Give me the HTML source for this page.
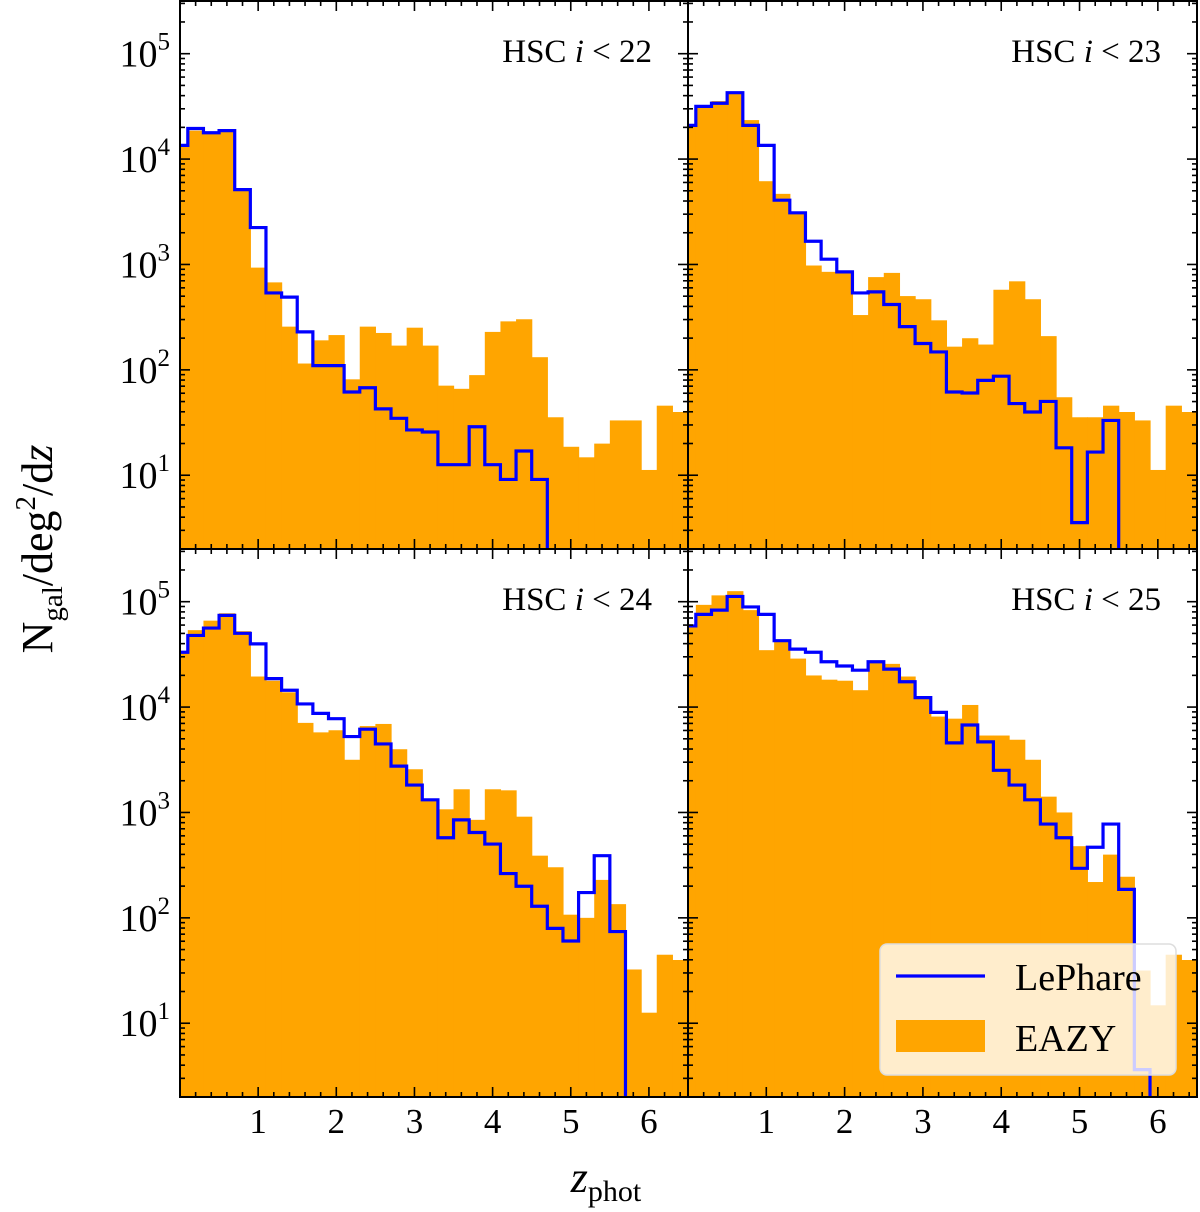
<!DOCTYPE html>
<html><head><meta charset="utf-8">
<style>
html,body{margin:0;padding:0;background:#fff;}
svg{display:block;}
text{font-family:"Liberation Serif",serif;fill:#000;}
</style></head>
<body>
<svg id="fig" width="1200" height="1212" viewBox="0 0 1200 1212" xmlns="http://www.w3.org/2000/svg"></svg>
<script>
// ---- data (log10 of N per deg^2 per dz), bins of width 0.2 centred on 0,0.2,...,6.4 ----
const binCenters = [0,0.2,0.4,0.6,0.8,1.0,1.2,1.4,1.6,1.8,2.0,2.2,2.4,2.6,2.8,3.0,3.2,3.4,3.6,3.8,4.0,4.2,4.4,4.6,4.8,5.0,5.2,5.4,5.6,5.8,6.0,6.2,6.4];
const panelTitles = ["22","23","24","25"];
const lephare22 = [4.13,4.29,4.25,4.27,3.71,3.35,2.73,2.69,2.36,2.04,2.04,1.79,1.83,1.63,1.54,1.43,1.41,1.10,1.10,1.46,1.10,0.96,1.23,0.96,null,null,null,null,null,null,null,null,null];
const eazy22 = [4.13,4.27,4.24,4.27,3.71,2.97,2.83,2.41,2.06,2.28,2.33,1.91,2.41,2.35,2.23,2.40,2.23,1.85,1.82,1.95,2.36,2.46,2.48,2.12,1.55,1.27,1.17,1.30,1.52,1.52,1.05,1.66,1.60];
const lephare23 = [4.32,4.50,4.53,4.63,4.32,4.13,3.61,3.49,3.22,3.05,2.93,2.73,2.74,2.62,2.41,2.25,2.17,1.79,1.78,1.90,1.94,1.68,1.60,1.70,1.26,0.55,1.22,1.52,null,null,null,null,null];
const eazy23 = [4.32,4.50,4.55,4.63,4.37,3.79,3.67,3.49,2.99,2.93,2.93,2.52,2.88,2.92,2.70,2.67,2.47,2.22,2.30,2.24,2.76,2.84,2.67,2.32,1.74,1.55,1.55,1.66,1.60,1.52,1.05,1.66,1.60];
const lephare24 = [4.52,4.68,4.75,4.87,4.70,4.60,4.27,4.16,4.03,3.94,3.89,3.72,3.79,3.65,3.44,3.26,3.12,2.76,2.93,2.81,2.70,2.42,2.30,2.11,1.90,1.78,2.24,2.59,1.87,null,null,null,null];
const eazy24 = [4.51,4.73,4.82,4.89,4.72,4.29,4.25,4.14,3.85,3.76,3.78,3.50,3.82,3.84,3.60,3.41,3.12,3.03,3.22,2.93,3.22,3.21,2.96,2.59,2.48,2.03,2.00,2.36,2.13,1.51,1.10,1.65,1.60];
const lephare25 = [4.77,4.88,4.92,5.05,4.95,4.88,4.63,4.55,4.52,4.43,4.39,4.35,4.43,4.36,4.24,4.09,3.95,3.66,3.83,3.67,3.40,3.26,3.12,2.89,2.76,2.47,2.67,2.89,2.27,0.56,null,null,null];
const eazy25 = [4.78,4.97,5.06,5.10,4.92,4.54,4.62,4.46,4.30,4.26,4.25,4.16,4.44,4.41,4.29,4.09,3.91,3.89,4.02,3.73,3.73,3.69,3.50,3.15,3.00,2.68,2.34,2.60,2.39,1.50,1.17,1.65,1.60];
const xTickValues = [1,2,3,4,5,6];
const yTickExps = [1,2,3,4,5];

const NS = "http://www.w3.org/2000/svg";
const svg = document.getElementById('fig');
function el(tag, attrs, parent){ const e=document.createElementNS(NS,tag); for(const k in attrs) e.setAttribute(k,attrs[k]); (parent||svg).appendChild(e); return e; }

const binW = 0.2, xMin = 0, xMax = 6.5, yLo = 0.3, yHi = 5.5;
const panels = [
 {x0:180,x1:688,y0:1,y1:549,le:lephare22,ea:eazy22,t:0,left:true,bottom:false},
 {x0:688,x1:1197,y0:1,y1:549,le:lephare23,ea:eazy23,t:1,left:false,bottom:false},
 {x0:180,x1:688,y0:549,y1:1097,le:lephare24,ea:eazy24,t:2,left:true,bottom:true},
 {x0:688,x1:1197,y0:549,y1:1097,le:lephare25,ea:eazy25,t:3,left:false,bottom:true}
];

panels.forEach((p,pi)=>{
  const g = el('g',{});
  
  
  const sx = v => p.x0 + (v - xMin)/(xMax - xMin)*(p.x1 - p.x0);
  const sy = lv => { const c = Math.max(yLo, Math.min(yHi, lv)); return p.y1 - (c - yLo)/(yHi - yLo)*(p.y1 - p.y0); };
  const clipId = 'clip'+pi;
  const cp = el('clipPath',{id:clipId},g); el('rect',{x:p.x0,y:p.y0,width:p.x1-p.x0,height:p.y1-p.y0},cp);
  const plot = el('g',{'clip-path':'url(#'+clipId+')'},g);
  binCenters.forEach((c,i)=>{
    const v = p.ea[i]; if(v==null) return;
    const xa = sx(Math.max(xMin,c-binW/2)), xb = sx(Math.min(xMax,c+binW/2));
    const r = el('rect',{x:xa,y:sy(v),width:xb-xa+0.6,height:p.y1-sy(v),fill:'#ffa500'},plot);
    
    
  });
  let d=''; let prevY=null;
  binCenters.forEach((c,i)=>{
    const v = p.le[i]; const y = v==null ? p.y1+5 : sy(v);
    const xa = sx(Math.max(xMin,c-binW/2)), xb = sx(Math.min(xMax,c+binW/2));
    if(prevY===null) d += 'M'+xa+','+y; else d += ' L'+xa+','+y;
    d += ' L'+xb+','+y; prevY=y;
  });
  const ln = el('path',{d:d,fill:'none',stroke:'#0000ff','stroke-width':3.2,'stroke-linejoin':'miter'},plot);
  
  
  const tk = el('g',{stroke:'#000','stroke-width':1.6},g);
  for(let v=0.2; v<xMax; v+=0.2){
    const x = sx(v); const major = Math.abs(v-Math.round(v))<1e-6;
    const L = major?10:5;
    el('line',{x1:x,y1:p.y1,x2:x,y2:p.y1-L},tk);
    el('line',{x1:x,y1:p.y0,x2:x,y2:p.y0+L},tk);
  }
  for(let e=0;e<=5;e++){
    for(let m=1;m<=9;m++){
      const lv = e + Math.log10(m); if(lv<yLo||lv>yHi) continue;
      const y = sy(lv); const L = m===1?10:5;
      el('line',{x1:p.x0,y1:y,x2:p.x0+L,y2:y},tk);
      el('line',{x1:p.x1,y1:y,x2:p.x1-L,y2:y},tk);
    }
  }
  const fr = el('rect',{x:p.x0,y:p.y0,width:p.x1-p.x0,height:p.y1-p.y0,fill:'none',stroke:'#000','stroke-width':2},g);
  
  
  const t = el('text',{x:p.x1-36,y:p.y0+61,'font-size':33,'text-anchor':'end'},g);
  
  
  t.innerHTML = 'HSC <tspan font-style="italic">i</tspan> &lt; '+panelTitles[p.t];
  if(p.left){
    yTickExps.forEach(e=>{
      const y = sy(e);
      const lt = el('text',{x:170,y:y+13,'font-size':38,'text-anchor':'end'},g);
      
      
      lt.innerHTML = '10<tspan dy="-17" font-size="25">'+e+'</tspan>';
    });
  }
  if(p.bottom){
    xTickValues.forEach(v=>{
      const lt = el('text',{x:sx(v),y:1133,'font-size':35,'text-anchor':'middle'},g);
      
      
      lt.textContent = v;
    });
  }
});

const yl = el('text',{x:0,y:0,'font-size':44,'text-anchor':'middle',transform:'translate(52,549) rotate(-90)'});


yl.innerHTML = 'N<tspan dy="10" font-size="29">gal</tspan><tspan dy="-10">/deg</tspan><tspan dy="-17" font-size="29">2</tspan><tspan dy="17">/d</tspan><tspan font-style="italic">z</tspan>';
const xl = el('text',{x:606,y:1192,'font-size':44,'text-anchor':'middle'});


xl.innerHTML = '<tspan font-style="italic">z</tspan><tspan dy="9" font-size="30">phot</tspan>';

const lg = el('g',{});


el('rect',{x:880,y:944,width:296,height:131,rx:7,fill:'#ffffff','fill-opacity':0.8,stroke:'#dddddd','stroke-width':1.5},lg);
el('line',{x1:896,y1:976,x2:985,y2:976,stroke:'#0000ff','stroke-width':3.2},lg);
el('rect',{x:896,y:1020,width:89,height:32,fill:'#ffa500'},lg);
const l1 = el('text',{x:1015,y:990,'font-size':38},lg);


l1.textContent='LePhare';
const l2 = el('text',{x:1015,y:1051,'font-size':38},lg);


l2.textContent='EAZY';
</script>
</body></html>
